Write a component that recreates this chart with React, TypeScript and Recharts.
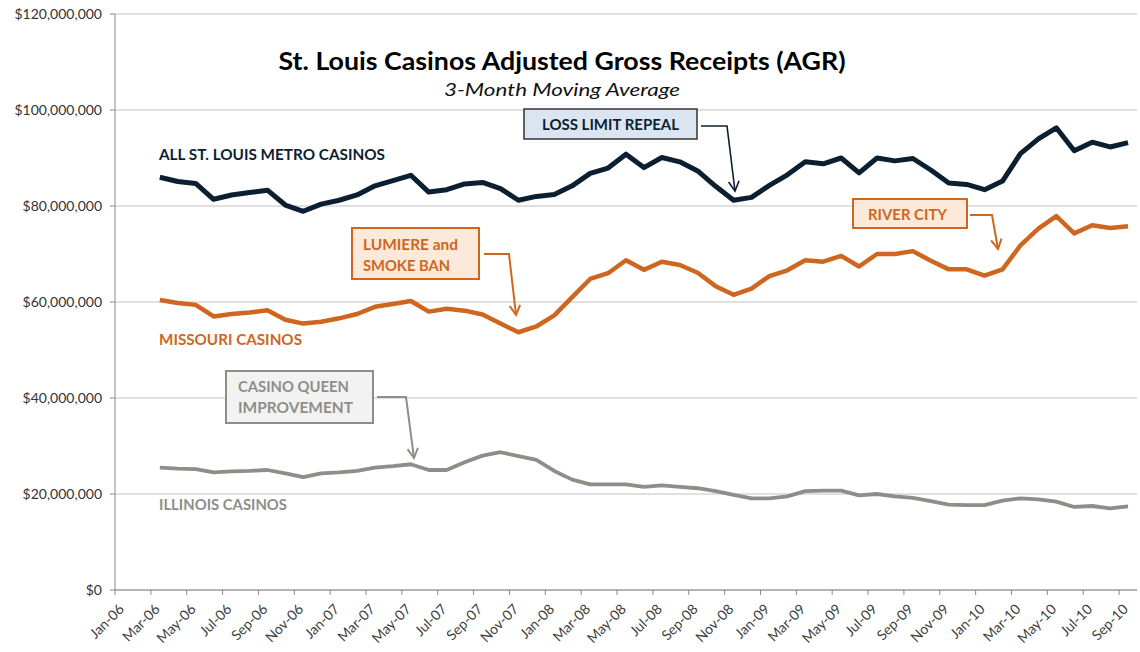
import React from "react";
import { LineChart, Line, XAxis, YAxis, CartesianGrid } from "recharts";

// month tick labels, every other month from Jan-06
const TICK_LABELS = [
  "Jan-06", "Mar-06", "May-06", "Jul-06", "Sep-06", "Nov-06",
  "Jan-07", "Mar-07", "May-07", "Jul-07", "Sep-07", "Nov-07",
  "Jan-08", "Mar-08", "May-08", "Jul-08", "Sep-08", "Nov-08",
  "Jan-09", "Mar-09", "May-09", "Jul-09", "Sep-09", "Nov-09",
  "Jan-10", "Mar-10", "May-10", "Jul-10", "Sep-10",
];

// series start in Mar-06 (2 months after Jan-06), one value per month to Sep-10
const FIRST_MONTH = 2;

// $ millions, 3-month moving average
const allMetro = [
  86.0, 85.1, 84.7, 81.4, 82.3, 82.8, 83.3, 80.2, 78.9, 80.4,
  81.2, 82.3, 84.2, 85.3, 86.4, 82.9, 83.4, 84.6, 84.9, 83.6,
  81.2, 82.0, 82.4, 84.2, 86.8, 87.9, 90.8, 88.0, 90.1, 89.2,
  87.3, 84.1, 81.2, 81.8, 84.3, 86.5, 89.2, 88.8, 90.0, 86.9,
  90.0, 89.4, 89.9, 87.5, 84.8, 84.5, 83.4, 85.2, 90.9, 94.0,
  96.3, 91.5, 93.3, 92.3, 93.2,
];

const missouri = [
  60.4, 59.8, 59.4, 57.0, 57.5, 57.8, 58.3, 56.3, 55.5, 55.9,
  56.6, 57.5, 59.0, 59.6, 60.2, 58.0, 58.6, 58.2, 57.4, 55.5,
  53.7, 54.9, 57.2, 61.0, 64.8, 66.0, 68.7, 66.7, 68.4, 67.7,
  66.1, 63.3, 61.5, 62.8, 65.4, 66.6, 68.7, 68.4, 69.6, 67.4,
  70.0, 70.0, 70.6, 68.6, 66.8, 66.8, 65.5, 66.8, 71.8, 75.3,
  77.9, 74.3, 76.0, 75.4, 75.8,
];

const illinois = [
  25.5, 25.3, 25.2, 24.5, 24.7, 24.8, 25.0, 24.3, 23.5, 24.3,
  24.5, 24.8, 25.5, 25.8, 26.2, 25.0, 25.0, 26.6, 28.0, 28.7,
  27.9, 27.1, 24.8, 23.0, 22.0, 22.0, 22.0, 21.5, 21.8, 21.5,
  21.2, 20.6, 19.8, 19.1, 19.1, 19.5, 20.6, 20.7, 20.7, 19.7,
  20.0, 19.5, 19.2, 18.5, 17.8, 17.7, 17.7, 18.6, 19.1, 18.9,
  18.4, 17.3, 17.5, 17.0, 17.4,
];

const Y_TICKS = [0, 20e6, 40e6, 60e6, 80e6, 100e6, 120e6];

const NAVY = "#0c1f31";
const ORANGE = "#cf661f";
const GRAY = "#8e8e88";
const FONT = "Lato, 'Open Sans', sans-serif";

// plotted at mid-month
const data = allMetro.map((v, i) => ({
  m: FIRST_MONTH + i + 0.5,
  all: v * 1e6,
  mo: missouri[i] * 1e6,
  il: illinois[i] * 1e6,
}));

const fmtMoney = (v: number) => "$" + v.toLocaleString("en-US");

// eslint-disable-next-line @typescript-eslint/no-explicit-any
const XTick = ({ x, y, payload }: any) => {
  const label = TICK_LABELS[Math.round(payload.value / 2)] || "";
  return (
    <g transform={`translate(${x + 10},${y + 15})`}>
      <text
        textAnchor="end"
        transform="rotate(-45)"
        fontSize={14}
        fontFamily={FONT}
        fill="#404040">
        {label}
      </text>
    </g>
  );
};

function Arrow({ points, color, width }: { points: number[][]; color: string; width: number }) {
  const n = points.length;
  const [tx, ty] = points[n - 1];
  const [px, py] = points[n - 2];
  const ang = Math.atan2(ty - py, tx - px);
  const len = 11;
  const spread = 0.5;
  const w1 = [tx - len * Math.cos(ang - spread), ty - len * Math.sin(ang - spread)];
  const w2 = [tx - len * Math.cos(ang + spread), ty - len * Math.sin(ang + spread)];
  return (
    <g fill="none" stroke={color} strokeWidth={width}>
      <polyline points={points.map((p) => p.join(",")).join(" ")} />
      <polyline points={`${w1.join(",")} ${tx},${ty} ${w2.join(",")}`} />
    </g>
  );
}

function Label({
  x, y, w, text, size, color, italic, bold = true, anchor = "start",
}: {
  x: number; y: number; w: number; text: string; size: number; color: string;
  italic?: boolean; bold?: boolean; anchor?: "start" | "middle";
}) {
  return (
    <text
      x={x}
      y={y}
      textAnchor={anchor}
      fontFamily={FONT}
      fontSize={size}
      fontWeight={bold ? 700 : 400}
      fontStyle={italic ? "italic" : "normal"}
      fill={color}
      textLength={w}
      lengthAdjust="spacingAndGlyphs">
      {text}
    </text>
  );
}

function Annotations() {
  return (
    <svg
      width={1140}
      height={652}
      style={{ position: "absolute", left: 0, top: 0, pointerEvents: "none" }}>
      {/* title */}
      <Label x={562} y={70} w={567} text="St. Louis Casinos Adjusted Gross Receipts (AGR)" size={25} color="#000" anchor="middle" />
      <Label x={562} y={96} w={236} text="3-Month Moving Average" size={17} color="#111" italic bold={false} anchor="middle" />

      {/* series labels */}
      <Label x={159} y={160} w={226} text="ALL ST. LOUIS METRO CASINOS" size={16} color={NAVY} />
      <Label x={159} y={345} w={143} text="MISSOURI CASINOS" size={15} color={ORANGE} />
      <Label x={159} y={510} w={128} text="ILLINOIS CASINOS" size={15} color={GRAY} />

      {/* loss limit repeal */}
      <rect x={524} y={109} width={173} height={30} fill="#dbe5f1" stroke="#333" strokeWidth={1.5} />
      <Label x={542} y={130} w={137} text="LOSS LIMIT REPEAL" size={15} color={NAVY} />
      <Arrow points={[[701, 126], [727, 126], [735, 191]]} color={NAVY} width={1.6} />

      {/* lumiere */}
      <rect x={352} y={228} width={127} height={51} fill="#fde9d9" stroke={ORANGE} strokeWidth={2} />
      <Label x={363} y={250} w={95} text="LUMIERE and" size={15} color={ORANGE} />
      <Label x={363} y={271} w={87} text="SMOKE BAN" size={15} color={ORANGE} />
      <Arrow points={[[484, 254], [509, 254], [516, 315]]} color={ORANGE} width={2} />

      {/* river city */}
      <rect x={853} y={199} width={114} height={29} fill="#fde9d9" stroke={ORANGE} strokeWidth={2} />
      <Label x={868} y={220} w={79} text="RIVER CITY" size={15} color={ORANGE} />
      <Arrow points={[[970, 215], [992, 215], [998, 249]]} color={ORANGE} width={2} />

      {/* casino queen */}
      <rect x={226} y={371} width={147} height={52} fill="#f2f2f2" stroke={GRAY} strokeWidth={2} />
      <Label x={238} y={392} w={111} text="CASINO QUEEN" size={15} color={GRAY} />
      <Label x={238} y={413} w={115} text="IMPROVEMENT" size={15} color={GRAY} />
      <Arrow points={[[377, 397], [406, 397], [414, 458]]} color={GRAY} width={2} />
    </svg>
  );
}

export default function App() {
  return (
    <div style={{ position: "absolute", left: 0, top: 0, width: 1140, height: 652, background: "#fff" }}>
      <LineChart
        width={1140}
        height={652}
        data={data}
        margin={{ top: 14, right: 3, bottom: 0, left: 0 }}>
        <CartesianGrid vertical={false} stroke="#d6d6d6" strokeWidth={1.5} />
        <XAxis
          dataKey="m"
          type="number"
          domain={[0, 57]}
          ticks={TICK_LABELS.map((_, i) => i * 2)}
          interval={0}
          height={62}
          tick={<XTick />}
          tickSize={5}
          tickMargin={0}
          stroke="#888"
          allowDataOverflow
        />
        <YAxis
          width={115}
          domain={[0, 120e6]}
          ticks={Y_TICKS}
          tickFormatter={fmtMoney}
          tickSize={5}
          tickMargin={8}
          stroke="#888"
          tick={{ fill: "#333", fontSize: 14, fontFamily: FONT }}
        />
        <Line
          dataKey="il"
          stroke={GRAY}
          strokeWidth={3.8}
          dot={false}
          strokeLinejoin="round"
          isAnimationActive={false}
        />
        <Line
          dataKey="mo"
          stroke={ORANGE}
          strokeWidth={4.5}
          dot={false}
          strokeLinejoin="round"
          isAnimationActive={false}
        />
        <Line
          dataKey="all"
          stroke={NAVY}
          strokeWidth={5}
          dot={false}
          strokeLinejoin="round"
          isAnimationActive={false}
        />
      </LineChart>
      <Annotations />
    </div>
  );
}
